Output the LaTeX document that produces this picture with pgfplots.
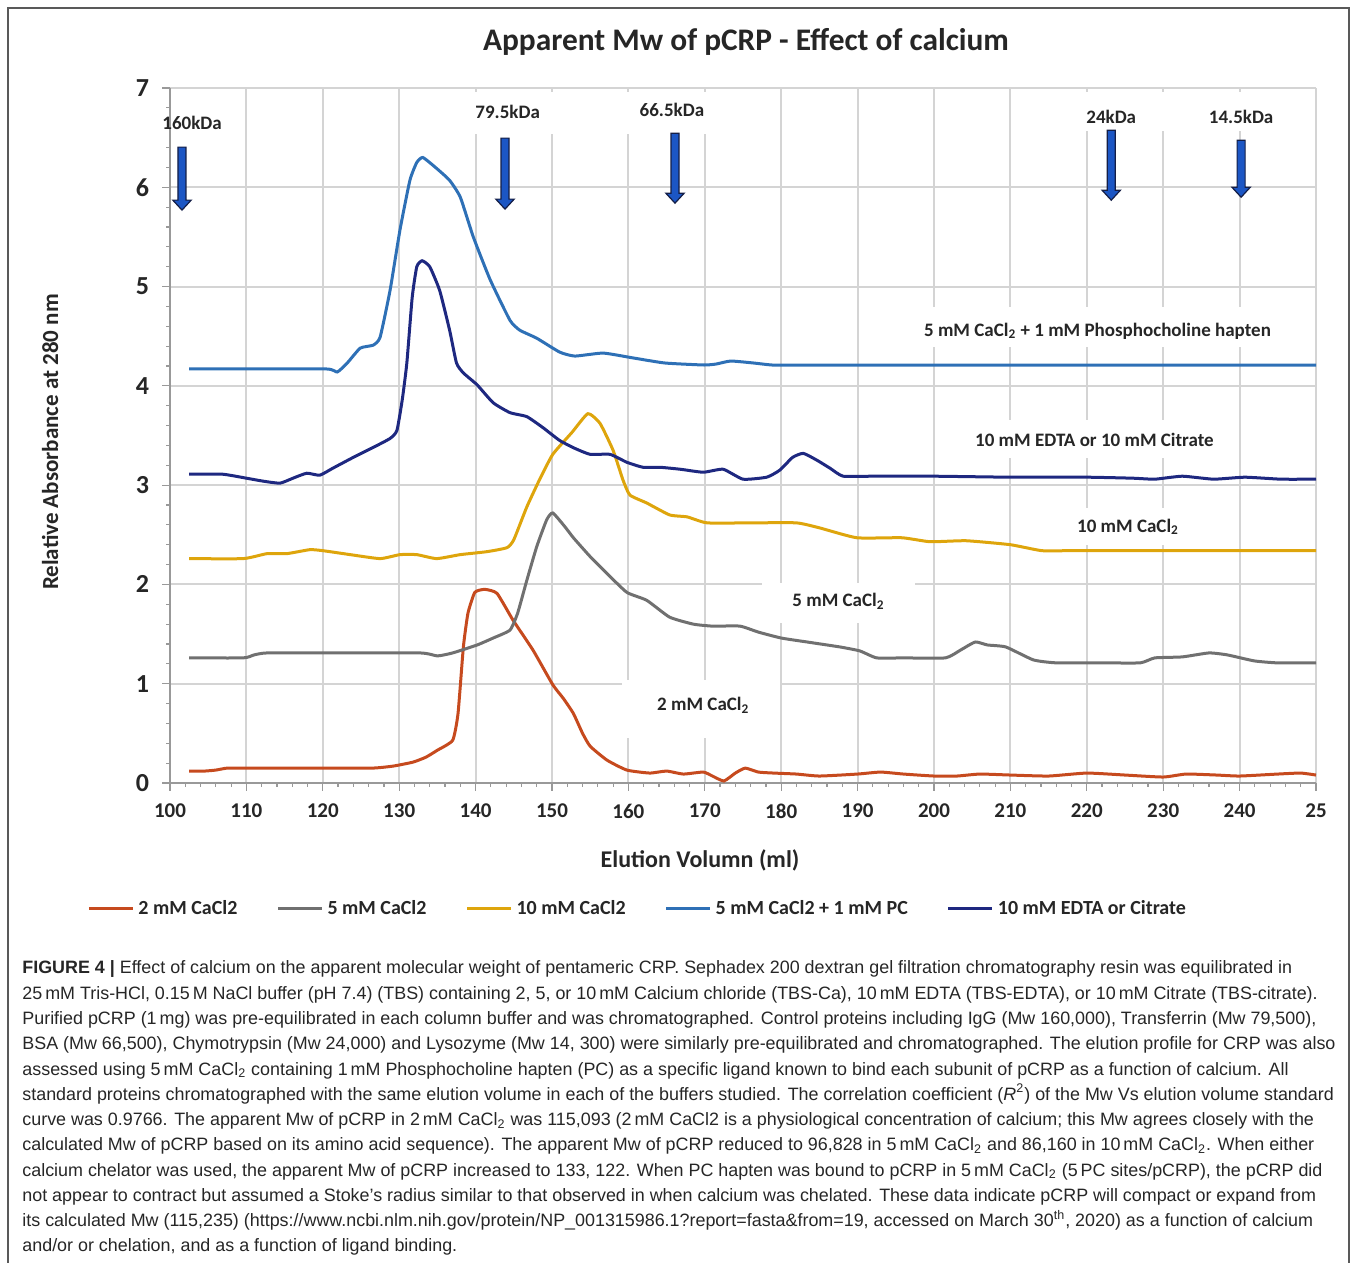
\documentclass[border=0pt]{standalone}
\usepackage{fontspec}
\setmainfont{Carlito}
\newfontfamily\capfont{Liberation Sans}
\usepackage{pgfplots}
\pgfplotsset{compat=1.18}
\definecolor{cred}{RGB}{198,74,30}
\definecolor{cgray}{RGB}{112,112,112}
\definecolor{cgold}{RGB}{222,165,12}
\definecolor{cblue}{RGB}{46,112,182}
\definecolor{cnavy}{RGB}{30,40,128}
\definecolor{gridc}{RGB}{212,212,212}
\definecolor{textc}{RGB}{38,38,38}
\definecolor{arrfill}{RGB}{28,86,196}
\definecolor{arrline}{RGB}{20,30,70}
\newcommand{\kdarrow}[3]{%
  \draw[shift={(axis cs:#1,#2)}, fill=arrfill, draw=arrline, line width=0.6pt, line join=miter]
    (0pt,0pt) -- (-4.6pt,5pt) -- (-2pt,5pt) -- (-2pt,#3) -- (2pt,#3) -- (2pt,5pt) -- (4.6pt,5pt) -- cycle;}
\begin{document}
\begin{tikzpicture}[x=0.5pt,y=0.5pt]
\path[use as bounding box] (0,0) rectangle (1357,1263);
\draw[color=black!65, line width=0.8pt] (8,-2) -- (8,1255) -- (1349,1255) -- (1349,-2);
\begin{axis}[
  at={(85pt,240pt)}, anchor=south west,
  scale only axis, width=573pt, height=347.5pt,
  xmin=100, xmax=250, ymin=0, ymax=7, clip=false,
  axis lines=left, axis line style={-, draw=black!40, line width=0.8pt},
  xtick={100,110,...,250},
  xticklabels={100,110,120,130,140,150,160,170,180,190,200,210,220,230,240,25},
  ytick={0,1,...,7}, yticklabels={0,1,2,3,4,5,6,7},
  minor x tick num=4, minor y tick num=4,
  grid=major, major grid style={draw=gridc, line width=1pt},
  tick align=outside, major tick length=4pt, minor tick length=2pt,
  tick style={draw=black!40, line width=0.6pt},
  xticklabel style={font=\bfseries\fontsize{10.5}{12}\selectfont, text=textc, yshift=-3pt},
  yticklabel style={font=\bfseries\fontsize{13}{14}\selectfont, text=textc, xshift=-3pt},
  every axis plot/.append style={line width=1.5pt, smooth, tension=0.3},
  legend style={at={(0.409,-0.181)}, anchor=center, draw=none, fill=none,
    font=\bfseries\fontsize{10}{11}\selectfont, text=textc, legend columns=5,
    /tikz/every even column/.append style={column sep=17.5pt}},
  legend image code/.code={\draw[#1, line width=1.5pt] (0pt,0pt) -- (22pt,0pt);},
]
% white boxes behind labels
\fill[white] (axis cs:159.16,0.453) rectangle (axis cs:179.84,1.037);
\fill[white] (axis cs:177.49,1.611) rectangle (axis cs:197.51,2.014);
\fill[white] (axis cs:217.5,2.397) rectangle (axis cs:233.2,2.769);
\fill[white] (axis cs:202.7,3.273) rectangle (axis cs:239.0,3.655);
\fill[white] (axis cs:196.2,4.391) rectangle (axis cs:246.6,4.79);
\fill[white] (axis cs:138.2,6.536) rectangle (axis cs:170.94,6.959);
\fill[white] (axis cs:218.8,6.566) rectangle (axis cs:247.9,6.959);

\addplot[cred] coordinates {
(102.5,0.12)(104.5,0.12)(106,0.13)(107.5,0.15)(110,0.15)(115,0.15)(120,0.15)(126.5,0.15)(129.2,0.17)(131.8,0.21)(133.5,0.26)(135,0.33)(137,0.43)(137.7,0.70)(138.4,1.37)(139,1.71)(139.9,1.92)(141.2,1.95)(142.8,1.91)(144.9,1.64)(147.5,1.34)(150.1,0.99)(151.5,0.85)(152.8,0.70)(154,0.50)(155,0.37)(157.2,0.23)(159.8,0.13)(162.8,0.10)(165,0.12)(167.2,0.09)(169.8,0.11)(171,0.07)(172.5,0.02)(174,0.10)(175.3,0.15)(177,0.11)(179,0.10)(182,0.09)(185,0.07)(190,0.09)(193,0.11)(196,0.09)(200,0.07)(203,0.07)(206,0.09)(210,0.08)(215,0.07)(220,0.10)(225,0.08)(230,0.06)(233,0.09)(237,0.08)(240,0.07)(245,0.09)(248,0.10)(250,0.08)};
\addlegendentry{2 mM CaCl2}
\addplot[cgray] coordinates {
(102.5,1.26)(109.6,1.26)(111,1.29)(112.7,1.31)(120,1.31)(132.7,1.31)(135,1.28)(137,1.31)(140.2,1.39)(142.3,1.46)(144.5,1.54)(145.5,1.71)(146.7,2.04)(148,2.38)(149.3,2.65)(150.1,2.72)(151.7,2.58)(152.8,2.47)(155,2.28)(157.2,2.11)(159.8,1.92)(162.4,1.84)(165.4,1.67)(168.5,1.60)(171,1.58)(174.6,1.58)(177,1.52)(180,1.46)(183.4,1.42)(187.7,1.37)(190.3,1.33)(192.5,1.26)(196,1.26)(201.5,1.26)(203.5,1.34)(205.4,1.42)(207,1.39)(209.4,1.37)(213,1.24)(216,1.21)(222,1.21)(227,1.21)(228.9,1.26)(232.5,1.27)(236,1.31)(238.4,1.29)(241.9,1.23)(244.9,1.21)(250,1.21)};
\addlegendentry{5 mM CaCl2}
\addplot[cgold] coordinates {
(102.5,2.26)(109.6,2.26)(112.7,2.31)(115.3,2.31)(118.3,2.35)(120,2.34)(123.6,2.30)(127.5,2.26)(130.1,2.30)(132.3,2.30)(134.9,2.26)(138,2.30)(141.5,2.33)(144.1,2.37)(145,2.45)(146.7,2.78)(148.4,3.06)(150.1,3.31)(152.6,3.53)(154.7,3.72)(156.3,3.62)(158,3.35)(159.3,3.05)(160.2,2.90)(162.4,2.82)(165.4,2.70)(167.7,2.68)(170.3,2.62)(176,2.62)(182,2.62)(185,2.57)(189.9,2.47)(195.8,2.47)(199.5,2.43)(204.2,2.44)(210,2.40)(214.1,2.34)(218,2.34)(230,2.34)(240,2.34)(250,2.34)};
\addlegendentry{10 mM CaCl2}
\addplot[cblue] coordinates {
(102.5,4.17)(110,4.17)(120.5,4.17)(121.9,4.14)(123.2,4.23)(124.9,4.38)(126.6,4.41)(127.5,4.49)(128.8,4.96)(130.1,5.57)(131.4,6.07)(132.3,6.25)(133.1,6.30)(134.9,6.19)(136.6,6.07)(138,5.90)(139.7,5.50)(141.9,5.07)(144.5,4.66)(145.8,4.56)(148,4.48)(151,4.34)(153,4.30)(156.7,4.33)(160.7,4.28)(164.8,4.23)(169.9,4.21)(171.5,4.22)(173.4,4.25)(176.4,4.23)(178.8,4.21)(182,4.21)(190,4.21)(210,4.21)(230,4.21)(250,4.21)};
\addlegendentry{5 mM CaCl2 + 1 mM PC}
\addplot[cnavy] coordinates {
(102.5,3.11)(106.9,3.11)(110,3.07)(112.2,3.04)(114.4,3.02)(116.1,3.07)(117.9,3.12)(119.6,3.10)(121.3,3.17)(124,3.28)(126.6,3.38)(128.8,3.47)(129.7,3.55)(130.4,3.86)(131,4.23)(131.7,4.89)(132.3,5.20)(133,5.26)(134,5.20)(135.3,4.96)(136.6,4.56)(137.5,4.23)(138.4,4.13)(140.2,4.01)(142.3,3.83)(144.5,3.73)(146.7,3.69)(148.8,3.58)(151,3.45)(153,3.37)(155,3.31)(157.6,3.31)(159.8,3.23)(161.9,3.18)(164.1,3.18)(166.8,3.16)(169.8,3.13)(172.4,3.16)(175,3.06)(178.1,3.08)(179.8,3.15)(181.5,3.28)(182.9,3.32)(184.7,3.25)(186.4,3.17)(188.1,3.09)(192,3.09)(200,3.09)(210,3.08)(220,3.08)(226,3.07)(228.9,3.06)(232.5,3.09)(236.6,3.06)(240.7,3.08)(245.4,3.06)(250,3.06)};
\addlegendentry{10 mM EDTA or Citrate}

% arrows
\kdarrow{101.57}{5.77}{31.5pt}
\kdarrow{143.85}{5.78}{35.5pt}
\kdarrow{166.1}{5.84}{35pt}
\kdarrow{223.2}{5.87}{35pt}
\kdarrow{240.2}{5.90}{28.5pt}
\begin{scope}[font=\bfseries\fontsize{9.5}{11}\selectfont, text=textc]
\node at (axis cs:102.9,6.65) {160kDa};
\node at (axis cs:144.2,6.76) {79.5kDa};
\node at (axis cs:165.7,6.78) {66.5kDa};
\node at (axis cs:223.2,6.71) {24kDa};
\node at (axis cs:240.2,6.71) {14.5kDa};
\node at (axis cs:221.4,4.55) {5 mM CaCl\textsubscript{2} + 1 mM Phosphocholine hapten};
\node at (axis cs:221.0,3.46) {10 mM EDTA or 10 mM Citrate};
\node at (axis cs:225.4,2.58) {10 mM CaCl\textsubscript{2}};
\node at (axis cs:187.5,1.83) {5 mM CaCl\textsubscript{2}};
\node at (axis cs:169.8,0.78) {2 mM CaCl\textsubscript{2}};
\end{scope}
\end{axis}
% titles
\node[font=\bfseries\fontsize{15.7}{17}\selectfont, text=textc] at (746,1221) {Apparent Mw of pCRP - Effect of calcium};
\node[font=\bfseries\fontsize{12}{14}\selectfont, text=textc] at (700,403) {Elution Volumn (ml)};
\node[font=\bfseries\fontsize{11.5}{13}\selectfont, text=textc, rotate=90] at (50,821) {Relative Absorbance at 280 nm};
% caption
\begin{scope}[every node/.style={anchor=base west, inner sep=0pt, font=\capfont\fontsize{8.95}{10}\selectfont, text=textc}]
\node at (22,289) {\textbf{FIGURE 4 |} Effect of calcium on the apparent molecular weight of pentameric CRP. Sephadex 200 dextran gel filtration chromatography resin was equilibrated in};
\node at (22,263.7) {25\,mM Tris-HCl, 0.15\,M NaCl buffer (pH 7.4) (TBS) containing 2, 5, or 10\,mM Calcium chloride (TBS-Ca), 10\,mM EDTA (TBS-EDTA), or 10\,mM Citrate (TBS-citrate).};
\node at (22,238.5) {Purified pCRP (1\,mg) was pre-equilibrated in each column buffer and was chromatographed. Control proteins including IgG (Mw 160,000), Transferrin (Mw 79,500),};
\node at (22,213.2) {BSA (Mw 66,500), Chymotrypsin (Mw 24,000) and Lysozyme (Mw 14, 300) were similarly pre-equilibrated and chromatographed. The elution profile for CRP was also};
\node at (22,187.9) {assessed using 5\,mM CaCl\textsubscript{2} containing 1\,mM Phosphocholine hapten (PC) as a specific ligand known to bind each subunit of pCRP as a function of calcium. All};
\node at (22,162.7) {standard proteins chromatographed with the same elution volume in each of the buffers studied. The correlation coefficient (\textit{R}\textsuperscript{2}) of the Mw Vs elution volume standard};
\node at (22,137.4) {curve was 0.9766. The apparent Mw of pCRP in 2\,mM CaCl\textsubscript{2} was 115,093 (2\,mM CaCl2 is a physiological concentration of calcium; this Mw agrees closely with the};
\node at (22,112.1) {calculated Mw of pCRP based on its amino acid sequence). The apparent Mw of pCRP reduced to 96,828 in 5\,mM CaCl\textsubscript{2} and 86,160 in 10\,mM CaCl\textsubscript{2}. When either};
\node at (22,86.8) {calcium chelator was used, the apparent Mw of pCRP increased to 133, 122. When PC hapten was bound to pCRP in 5\,mM CaCl\textsubscript{2} (5\,PC sites/pCRP), the pCRP did};
\node at (22,61.6) {not appear to contract but assumed a Stoke’s radius similar to that observed in when calcium was chelated. These data indicate pCRP will compact or expand from};
\node at (22,36.3) {its calculated Mw (115,235) (https://www.ncbi.nlm.nih.gov/protein/NP\_001315986.1?report=fasta\&from=19, accessed on March 30\textsuperscript{th}, 2020) as a function of calcium};
\node at (22,11) {and/or or chelation, and as a function of ligand binding.};
\end{scope}
\end{tikzpicture}
\end{document}
